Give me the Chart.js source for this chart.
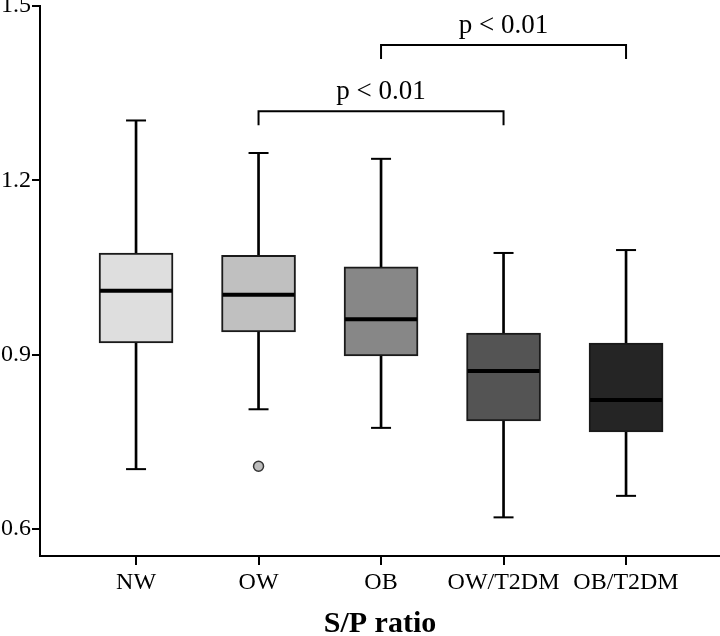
<!DOCTYPE html>
<html>
<head>
<meta charset="utf-8">
<script src="https://cdn.jsdelivr.net/npm/chart.js@4"></script>
<style>
  body { margin: 0; background: #fff; }
  #wrap { width: 720px; height: 636px; }
</style>
</head>
<body>
<div id="wrap"><canvas id="chart"></canvas></div>
<script>
const groups = ['NW', 'OW', 'OB', 'OW/T2DM', 'OB/T2DM'];
const whiskerLow  = [0.703, 0.806, 0.774, 0.620, 0.657];
const q1          = [0.920, 0.939, 0.898, 0.786, 0.767];
const median      = [1.010, 1.003, 0.961, 0.872, 0.822];
const q3          = [1.075, 1.071, 1.051, 0.937, 0.920];
const whiskerHigh = [1.303, 1.247, 1.237, 1.075, 1.080];
const outliers    = [[2, 0.708]];
const boxColors   = ['#dedede', '#c0c0c0', '#878787', '#545454', '#252525'];
const yTicks      = [0.6, 0.9, 1.2, 1.5];
// pairs of compared groups (1-based), bracket level, label
const brackets = [
  { from: 2, to: 4, level: 1.319, label: 'p < 0.01' },
  { from: 3, to: 5, level: 1.433, label: 'p < 0.01' }
];

const pos = groups.map((g, i) => i + 1);
const serif = '"Liberation Serif", "Times New Roman", serif';

const bracketPlugin = {
  id: 'brackets',
  afterDatasetsDraw(chart) {
    const ctx = chart.ctx;
    const x = chart.scales.x, y = chart.scales.y;
    ctx.save();
    ctx.strokeStyle = '#000';
    ctx.lineWidth = 2;
    ctx.fillStyle = '#000';
    ctx.font = '27px ' + serif;
    ctx.textAlign = 'center';
    ctx.textBaseline = 'alphabetic';
    brackets.forEach(b => {
      const x1 = x.getPixelForValue(b.from), x2 = x.getPixelForValue(b.to);
      const yy = y.getPixelForValue(b.level);
      ctx.beginPath();
      ctx.moveTo(x1, yy + 14);
      ctx.lineTo(x1, yy);
      ctx.lineTo(x2, yy);
      ctx.lineTo(x2, yy + 14);
      ctx.stroke();
      ctx.fillText(b.label, (x1 + x2) / 2, yy - 12);
    });
    ctx.restore();
  }
};

new Chart(document.getElementById('chart'), {
  type: 'bar',
  data: {
    datasets: [
      {
        type: 'scatter',
        data: pos.map((p, i) => ({ x: p, y: median[i] })),
        pointStyle: 'line',
        pointRadius: 36,
        borderColor: '#000',
        borderWidth: 4,
        order: 1
      },
      {
        type: 'scatter',
        data: pos.map((p, i) => ({ x: p, y: whiskerHigh[i] }))
          .concat(pos.map((p, i) => ({ x: p, y: whiskerLow[i] }))),
        pointStyle: 'line',
        pointRadius: 10,
        borderColor: '#000',
        borderWidth: 2,
        order: 1
      },
      {
        type: 'scatter',
        data: outliers.map(o => ({ x: o[0], y: o[1] })),
        pointStyle: 'circle',
        pointRadius: 5,
        backgroundColor: '#bdbdbd',
        borderColor: '#333',
        borderWidth: 1.5,
        order: 1
      },
      {
        data: pos.map((p, i) => ({ x: p, y: [q1[i], q3[i]] })),
        backgroundColor: boxColors,
        borderColor: '#1a1a1a',
        borderWidth: 2,
        borderSkipped: false,
        barThickness: 74,
        grouped: false,
        order: 2
      },
      {
        data: pos.map((p, i) => ({ x: p, y: [whiskerLow[i], whiskerHigh[i]] })),
        backgroundColor: '#000',
        borderWidth: 0,
        barThickness: 2,
        grouped: false,
        order: 3
      }
    ]
  },
  options: {
    responsive: true,
    maintainAspectRatio: false,
    animation: false,
    layout: { autoPadding: false, padding: { top: 6, right: 0, left: 0, bottom: 0 } },
    plugins: {
      legend: { display: false },
      tooltip: { enabled: false }
    },
    elements: { point: { hoverRadius: 0 } },
    scales: {
      x: {
        type: 'linear',
        offset: false,
        min: 0.216,
        max: 5.767,
        afterBuildTicks: s => { s.ticks = pos.map(v => ({ value: v })); },
        afterFit: s => { s.height = 80; s.paddingLeft = 0; s.paddingRight = 0; },
        ticks: {
          color: '#000',
          font: { family: serif, size: 24 },
          padding: 3,
          autoSkip: false,
          maxRotation: 0,
          callback: v => groups[v - 1]
        },
        grid: { offset: false, drawOnChartArea: false, tickLength: 9, color: '#000', lineWidth: 2 },
        border: { display: true, color: '#000', width: 2 },
        title: {
          display: true,
          text: 'S/P ratio',
          color: '#000',
          font: { family: serif, size: 30, weight: 'bold' },
          padding: { top: 0, bottom: -6 }
        }
      },
      y: {
        min: 0.5535,
        max: 1.5,
        afterBuildTicks: s => { s.ticks = yTicks.map(v => ({ value: v })); },
        afterFit: s => { s.width = 40; s.paddingTop = 0; s.paddingBottom = 0; },
        ticks: {
          color: '#000',
          font: { family: serif, size: 24 },
          padding: 1,
          callback: v => v.toFixed(1)
        },
        grid: { drawOnChartArea: false, tickLength: 8, color: '#000', lineWidth: 2 },
        border: { display: true, color: '#000', width: 2 }
      }
    }
  },
  plugins: [bracketPlugin]
});
</script>
</body>
</html>
